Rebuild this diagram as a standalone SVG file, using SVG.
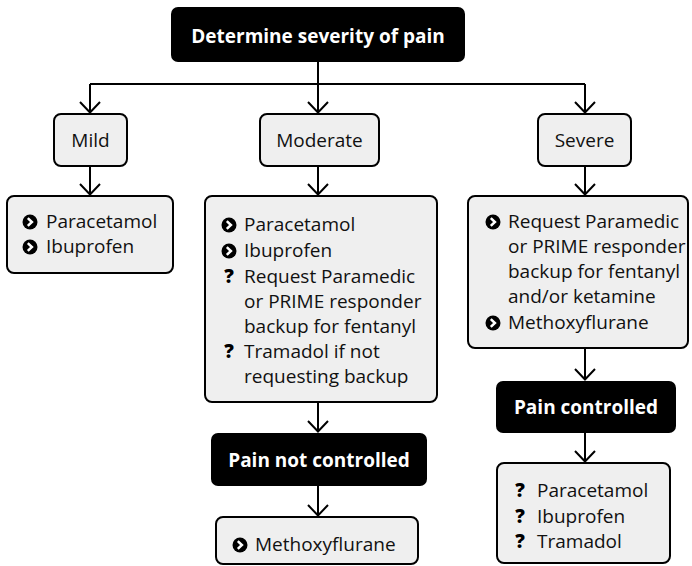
<svg xmlns="http://www.w3.org/2000/svg" width="692" height="566" viewBox="0 0 692 566">
  <defs>
    <style>
      .box { fill: #efefef; stroke: #000; stroke-width: 2; }
      .dark { fill: #000; }
      .t { font-family: "Open Sans", "Noto Sans", "Liberation Sans", sans-serif; font-size: 19px; fill: #111; }
      .h { font-family: "Open Sans", "Noto Sans", "Liberation Sans", sans-serif; font-size: 19px; font-weight: bold; fill: #fff; text-anchor: middle; }
      .q { font-family: "Open Sans", "Noto Sans", "Liberation Sans", sans-serif; font-size: 19px; font-weight: 800; fill: #000; text-anchor: middle; }
      .c { text-anchor: middle; }
      .link { fill: none; stroke: #000; stroke-width: 2; }
    </style>
    <marker id="arrow" markerUnits="userSpaceOnUse" markerWidth="24" markerHeight="24" viewBox="-13 -12 15 24" refX="0" refY="0" orient="auto">
      <path d="M-11,-10 L-0.5,0 L-11,10" fill="none" stroke="#000" stroke-width="2"/>
    </marker>
    <!-- round bullet with a right-pointing chevron -->
    <g id="bullet">
      <circle cx="0" cy="0" r="7.5" fill="#000"/>
      <path d="M-2.2,-3.8 L1.9,0 L-2.2,3.8" fill="none" stroke="#fff" stroke-width="2.5"/>
    </g>
  </defs>

  <!-- connectors -->
  <g id="connectors">
    <path class="link" d="M318,62 V84"/>
    <path class="link" d="M90,84 H585"/>
    <path class="link" d="M90,84 V113" marker-end="url(#arrow)"/>
    <path class="link" d="M318,84 V113" marker-end="url(#arrow)"/>
    <path class="link" d="M585,84 V113" marker-end="url(#arrow)"/>
    <path class="link" d="M90,166 V195" marker-end="url(#arrow)"/>
    <path class="link" d="M318,166 V195" marker-end="url(#arrow)"/>
    <path class="link" d="M585,166 V195" marker-end="url(#arrow)"/>
    <path class="link" d="M318,402 V432" marker-end="url(#arrow)"/>
    <path class="link" d="M318,486 V516" marker-end="url(#arrow)"/>
    <path class="link" d="M585,348 V380" marker-end="url(#arrow)"/>
    <path class="link" d="M585,433 V462" marker-end="url(#arrow)"/>
  </g>

  <g id="start">
    <rect class="dark" x="171" y="7" width="294" height="55" rx="7"/>
    <text class="h" x="318" y="43">Determine severity of pain</text>
  </g>

  <g id="mild">
    <rect class="box" x="54" y="114" width="73" height="52" rx="7"/>
    <text class="t c" x="90.5" y="147">Mild</text>
  </g>

  <g id="moderate">
    <rect class="box" x="260" y="114" width="119" height="52" rx="7"/>
    <text class="t c" x="319.5" y="147">Moderate</text>
  </g>

  <g id="severe">
    <rect class="box" x="538" y="114" width="93" height="52" rx="7"/>
    <text class="t c" x="584.5" y="147">Severe</text>
  </g>

  <g id="mild-options">
    <rect class="box" x="7" y="196" width="166" height="77" rx="7"/>
    <use href="#bullet" x="30" y="222"/>
    <text class="t" x="46" y="228">Paracetamol</text>
    <use href="#bullet" x="30" y="247"/>
    <text class="t" x="46" y="253">Ibuprofen</text>
  </g>

  <g id="moderate-options">
    <rect class="box" x="205" y="196" width="232" height="206" rx="7"/>
    <use href="#bullet" x="229" y="225"/>
    <text class="t" x="244" y="231">Paracetamol</text>
    <use href="#bullet" x="229" y="251"/>
    <text class="t" x="244" y="257">Ibuprofen</text>
    <text class="q" x="229" y="283">?</text>
    <text class="t" x="244" y="283">Request Paramedic</text>
    <text class="t" x="244" y="308">or PRIME responder</text>
    <text class="t" x="244" y="333">backup for fentanyl</text>
    <text class="q" x="229" y="358">?</text>
    <text class="t" x="244" y="358">Tramadol if not</text>
    <text class="t" x="244" y="383">requesting backup</text>
  </g>

  <g id="severe-options">
    <rect class="box" x="468" y="196" width="220" height="152" rx="7"/>
    <use href="#bullet" x="493" y="222"/>
    <text class="t" x="508" y="228">Request Paramedic</text>
    <text class="t" x="508" y="253">or PRIME responder</text>
    <text class="t" x="508" y="278">backup for fentanyl</text>
    <text class="t" x="508" y="303">and/or ketamine</text>
    <use href="#bullet" x="493" y="323"/>
    <text class="t" x="508" y="329">Methoxyflurane</text>
  </g>

  <g id="not-controlled">
    <rect class="dark" x="211" y="433" width="216" height="53" rx="7"/>
    <text class="h" x="319" y="467">Pain not controlled</text>
  </g>

  <g id="not-controlled-options">
    <rect class="box" x="216" y="517" width="202" height="47" rx="7"/>
    <use href="#bullet" x="240" y="545"/>
    <text class="t" x="255" y="551">Methoxyflurane</text>
  </g>

  <g id="controlled">
    <rect class="dark" x="496" y="381" width="180" height="52" rx="7"/>
    <text class="h" x="586" y="414">Pain controlled</text>
  </g>

  <g id="controlled-options">
    <rect class="box" x="497" y="463" width="173" height="100" rx="7"/>
    <text class="q" x="520" y="497">?</text>
    <text class="t" x="537" y="497">Paracetamol</text>
    <text class="q" x="520" y="523">?</text>
    <text class="t" x="537" y="523">Ibuprofen</text>
    <text class="q" x="520" y="548">?</text>
    <text class="t" x="537" y="548">Tramadol</text>
  </g>
</svg>
